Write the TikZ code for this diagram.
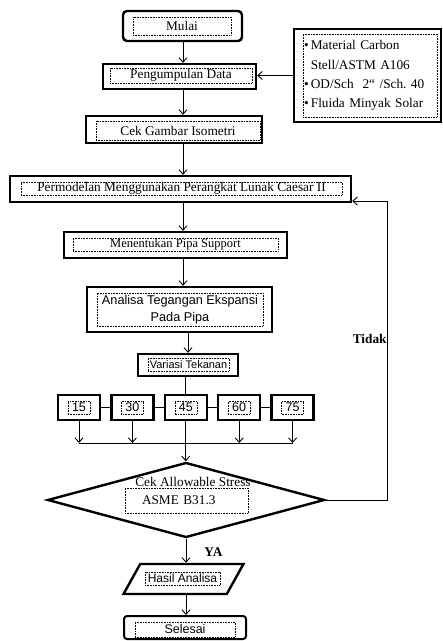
\documentclass[tikz,border=0pt]{standalone}
\usepackage{fontspec}
\setmainfont{Liberation Serif}
\setsansfont{Liberation Sans}
\usetikzlibrary{shapes.geometric,arrows.meta,calc}
\frenchspacing
\tikzset{
  >={Straight Barb[length=4.5pt,width=8pt]},
  flow/.style={->,line width=0.9pt},
  link/.style={line width=0.9pt},
  outer/.style={draw,line width=2.4pt,inner sep=0pt},
  startbox/.style={outer,rounded corners=4pt},
  inner/.style={draw,densely dotted,line width=0.6pt,inner sep=0.5pt,font=\fontsize{13.3}{16}\selectfont},
  innersf/.style={inner,font=\sffamily\fontsize{12}{17}\selectfont},
  lab/.style={font=\bfseries\fontsize{13.3}{16}\selectfont,inner sep=0pt}
}
\begin{document}
\begin{tikzpicture}[x=1pt,y=-1pt]
\useasboundingbox (0,0) rectangle (443,641);
\coordinate (col) at (183,0);
\coordinate (bus) at (0,443);
\coordinate (fbtop) at (387,201);
% start and data
\node[startbox,minimum width=119pt,minimum height=30pt](mulai) at (182.5,26){};
\node[inner,minimum width=98pt,minimum height=18pt](mulaiT) at (182,26){Mulai};
\node[outer,minimum width=153pt,minimum height=25pt](peng) at (179.5,76.5){};
\node[inner,minimum width=142pt,minimum height=15pt](pengT) at (181,75.5){Pengumpulan Data};
\node[outer,minimum width=147pt,minimum height=93pt](info) at (367.5,75.5){};
\node[inner,minimum width=134pt,minimum height=83pt,text width=132pt,align=left,
  font=\fontsize{13.3}{19.3}\selectfont](infoT) at (370,75.5){\textbullet\,Material Carbon\\
  \phantom{\textbullet\,}Stell/ASTM A106\\
  \textbullet\,OD/Sch\ \ 2“ /Sch. 40\\
  \textbullet\,Fluida Minyak Solar};
\node[outer,minimum width=176pt,minimum height=27pt](cek) at (174,129.5){};
\node[inner,minimum width=164pt,minimum height=19pt](cekT) at (178,130.5){Cek Gambar Isometri};
% modelling and analysis
\node[outer,minimum width=341pt,minimum height=26pt](perm) at (180.5,189){};
\node[inner,minimum width=321pt,minimum height=13pt](permT) at (181.5,188.5){Permodelan Menggunakan Perangkat Lunak Caesar II};
\node[outer,minimum width=223pt,minimum height=26pt](ment) at (175.5,245){};
\node[inner,minimum width=205pt,minimum height=13pt,font=\fontsize{12.5}{16}\selectfont](mentT) at (175.5,244.5){Menentukan Pipa Support};
\node[outer,minimum width=185pt,minimum height=45pt](anal) at (179.5,309.5){};
\node[innersf,minimum width=166pt,minimum height=33pt,align=center,font=\sffamily\fontsize{12.7}{17}\selectfont](analT) at (180,309.5){Analisa Tegangan Ekspansi\\Pada Pipa};
\node[outer,minimum width=100pt,minimum height=22pt](var) at (188,365){};
\node[innersf,minimum width=81pt,minimum height=13pt,font=\sffamily\fontsize{11}{14}\selectfont](varT) at (188.5,364.5){Variasi Tekanan};
\foreach \v [count=\i] in {15,30,45,60,75}{
  \node[outer,minimum width=42pt,minimum height=25pt](n\v) at ({79+53.4*(\i-1)},407.5){};
  \node[innersf,minimum width=22pt,minimum height=13pt,font=\sffamily\fontsize{12.5}{14}\selectfont](n\v T) at (n\v){\v};
}
% decision and end
\node[draw,diamond,line width=2.4pt,minimum width=277pt,minimum height=75pt,inner sep=0pt](dia) at (186,500){};
\node[font=\fontsize{13.3}{16}\selectfont,inner sep=0pt](diaT) at (193,482){Cek Allowable Stress};
\node[inner,minimum width=123pt,minimum height=25pt,text width=89pt,inner xsep=17pt,align=left](diaB) at (186.5,500.5){ASME B31.3};
\node[draw,trapezium,trapezium left angle=78,trapezium right angle=102,trapezium stretches=true,
  line width=2.4pt,minimum width=120pt,minimum height=30pt,inner sep=0pt](hasil) at (183.5,579){\phantom{H}};
\node[innersf,minimum width=75pt,minimum height=13pt](hasilT) at (182.5,578.5){Hasil Analisa};
\node[outer,rounded corners=3pt,line width=2pt,minimum width=122pt,minimum height=23pt](sel) at (185,627.5){};
\node[innersf,minimum width=100pt,minimum height=15pt,font=\sffamily\fontsize{12.5}{14}\selectfont](selT) at (185,629.5){Selesai};
% connectors
\draw[flow] (mulai.south -| col) -- (peng.north -| col);
\draw[flow] (info.west) -- (info.west -| peng.east);
\draw[flow] (peng.south -| col) -- (cek.north -| col);
\draw[flow] (cek.south -| col) -- (perm.north -| col);
\draw[flow] (perm.south -| col) -- (ment.north -| col);
\draw[flow] (ment.south -| col) -- (anal.north -| col);
\draw[flow] (anal.south -| var.north) -- (var.north);
\draw[link] (var.south -| n45.north) -- (n45.north);
\foreach \a/\b in {15/30,30/45,45/60,60/75}
  \draw[link] (n\a.east) -- (n\b.west);
\foreach \v in {15,30,60,75}
  \draw[flow] (n\v.south) -- (n\v.south |- bus);
\draw[link] (n15.south |- bus) -- (n75.south |- bus);
\draw[flow] (n45.south) -- (n45.south |- dia.north);
\draw[flow] (dia.south) -- (dia.south |- hasil.north) node[pos=0.55,right=18pt,lab](ya){YA};
\draw[flow] (hasil.south -| dia.south) -- (sel.north -| dia.south);
\draw[flow] (dia.east) -| (fbtop) node[pos=0.77,left,lab](tidak){Tidak} -- (perm.east |- fbtop);
\end{tikzpicture}
\end{document}
